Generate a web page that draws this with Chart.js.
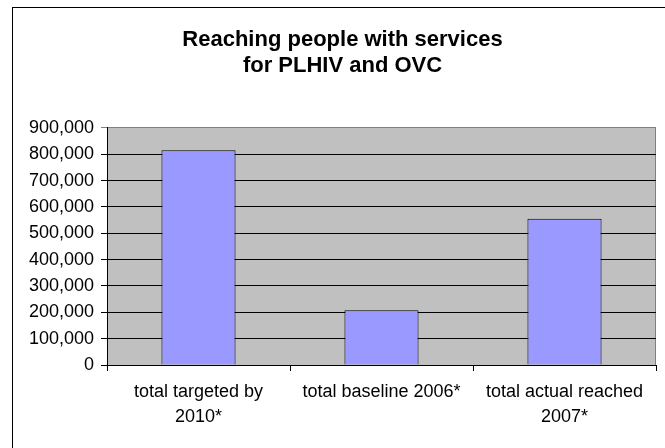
<!DOCTYPE html>
<html>
<head>
<meta charset="utf-8">
<script src="https://cdn.jsdelivr.net/npm/chart.js@4.4.1/dist/chart.umd.min.js"></script>
<style>
  html, body { margin: 0; padding: 0; background: #fff; }
  #wrap { width: 665px; height: 448px; position: relative; }
</style>
</head>
<body>
<div id="wrap"><canvas id="c" width="665" height="448"></canvas></div>
<script>
const titleLines = ['Reaching people with services', 'for PLHIV and OVC'];
const categories = [['total targeted by', '2010*'], ['total baseline 2006*'], ['total actual reached', '2007*']];
const values = [815000, 208000, 555000];
const yMin = 0;
const yMax = 900000;
const yStep = 100000;

const bgPlugin = {
  id: 'bg',
  beforeDraw(chart) {
    const ctx = chart.ctx;
    const a = chart.chartArea;
    ctx.save();
    ctx.fillStyle = '#ffffff';
    ctx.fillRect(0, 0, chart.width, chart.height);
    ctx.strokeStyle = '#000000';
    ctx.lineWidth = 1;
    ctx.strokeRect(12.5, 7.5, chart.width + 50, chart.height + 50);
    ctx.fillStyle = '#C0C0C0';
    ctx.fillRect(a.left, a.top, a.right - a.left, a.bottom - a.top);
    ctx.strokeStyle = '#808080';
    ctx.beginPath();
    ctx.moveTo(a.right - 0.5, a.top);
    ctx.lineTo(a.right - 0.5, a.bottom);
    ctx.stroke();
    ctx.restore();
  }
};

new Chart(document.getElementById('c'), {
  type: 'bar',
  data: {
    labels: categories,
    datasets: [{
      data: values,
      backgroundColor: '#9999FF',
      borderColor: '#000000',
      borderWidth: 1,
      categoryPercentage: 1,
      barPercentage: 0.405
    }]
  },
  options: {
    responsive: false,
    animation: false,
    devicePixelRatio: 1,
    layout: { padding: { left: 29, right: 9, top: 0, bottom: 18 } },
    plugins: {
      legend: { display: false },
      tooltip: { enabled: false },
      title: {
        display: true,
        text: titleLines,
        color: '#000000',
        font: { family: 'Liberation Sans, Arial, sans-serif', size: 22, weight: 'bold', lineHeight: 1.18 },
        padding: { top: 27, bottom: 49 }
      }
    },
    scales: {
      x: {
        afterFit: (s) => { s.height = 65; },
        grid: { offset: true, drawOnChartArea: false, drawTicks: true, tickLength: 6, color: '#000000' },
        border: { display: true, color: '#000000', width: 1 },
        ticks: {
          color: '#000000',
          padding: 9,
          maxRotation: 0,
          autoSkip: false,
          font: { family: 'Liberation Sans, Arial, sans-serif', size: 18, lineHeight: 1.389 }
        }
      },
      y: {
        min: yMin,
        max: yMax,
        afterFit: (s) => { s.width = 78; },
        grid: {
          color: (c) => (c.tick && c.tick.value === yMax) ? '#808080' : '#000000',
          lineWidth: 1,
          drawTicks: true,
          tickLength: 6
        },
        border: { display: true, color: '#000000', width: 1 },
        ticks: {
          stepSize: yStep,
          color: '#000000',
          padding: 7,
          font: { family: 'Liberation Sans, Arial, sans-serif', size: 18 },
          callback: (v) => Number(v).toLocaleString('en-US')
        }
      }
    }
  },
  plugins: [bgPlugin]
});
</script>
</body>
</html>
